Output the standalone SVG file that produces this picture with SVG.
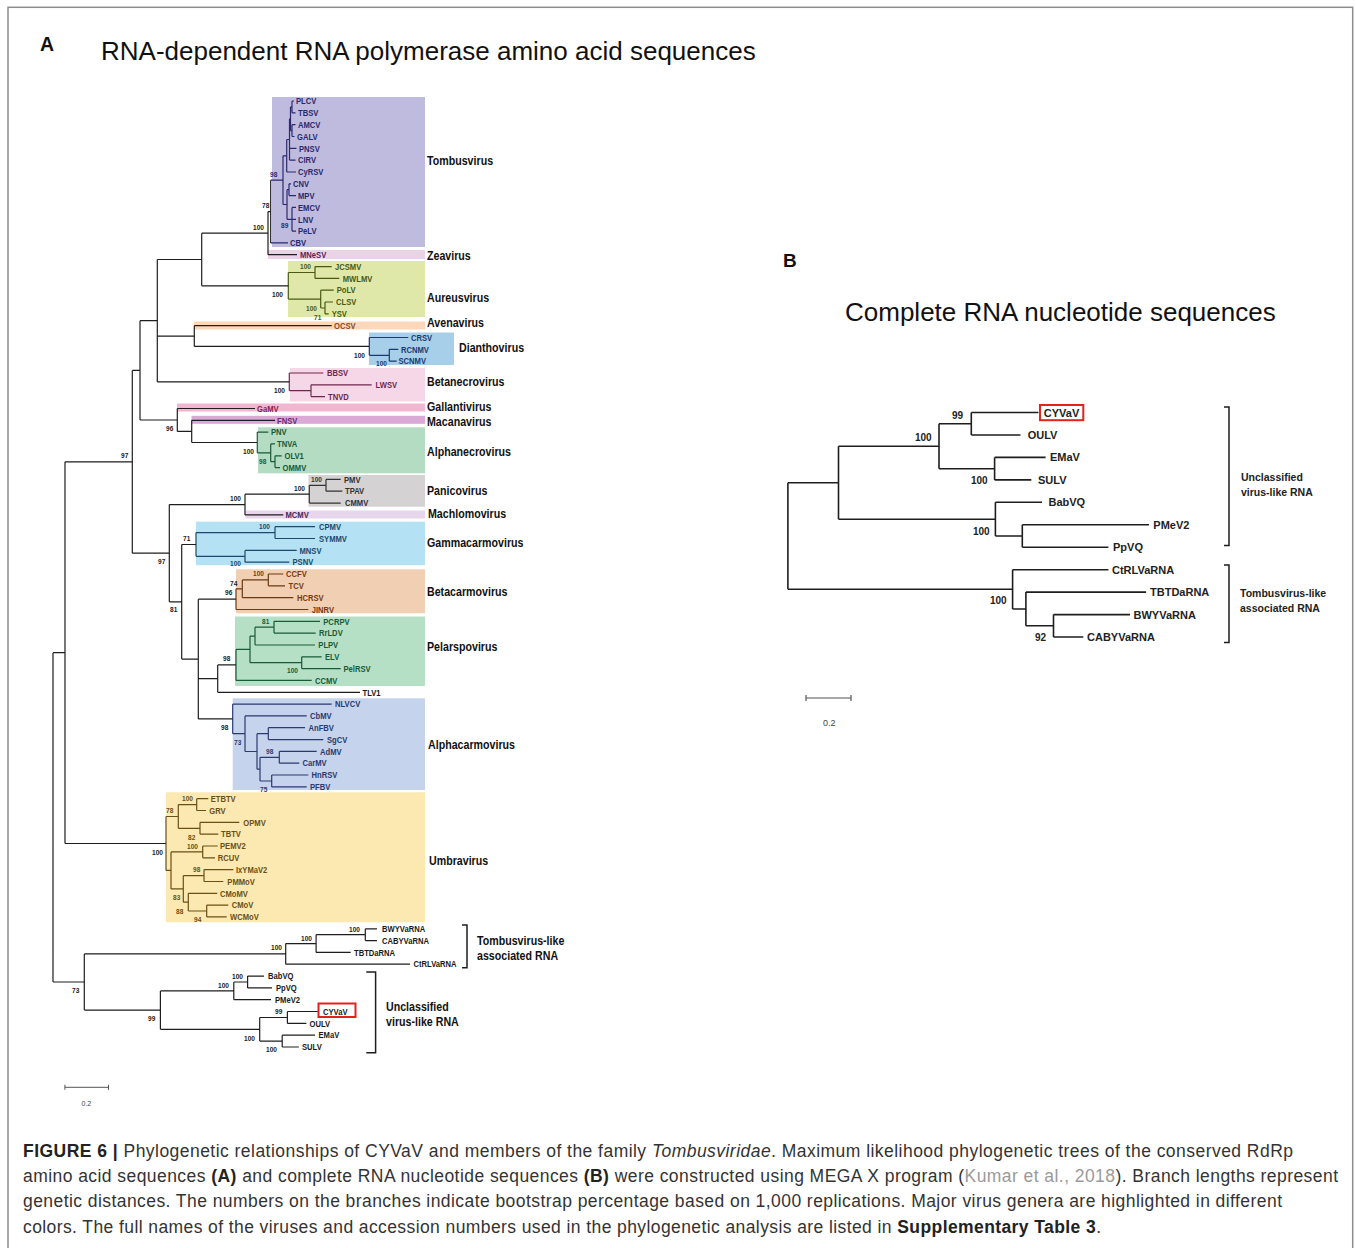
<svg xmlns="http://www.w3.org/2000/svg" width="1356" height="1248" viewBox="0 0 1356 1248">
<style>
.br{fill:none;stroke:#1e1e1e;stroke-width:1.2}
.bb{fill:none;stroke:#1e1e1e;stroke-width:1.6}
.n{font-family:'Liberation Sans',Arial,sans-serif;font-weight:bold}
.n text{transform-box:fill-box;transform-origin:0 50%;transform:scaleX(0.82)}
.lf{font-size:9.3px}
.bs{font-size:8px}
.gn{font-size:13px;fill:#111}
.bl{font-family:'Liberation Sans',Arial,sans-serif;font-weight:bold;fill:#222}
.tom{fill:#2b2a6e}.zea{fill:#5a245a}.aur{fill:#4a5a14}.ave{fill:#8a4a24}.dia{fill:#1a3a6e}.bne{fill:#6e2850}
.gal{fill:#8a2050}.mac{fill:#6e2a72}.anc{fill:#1a5a36}.pan{fill:#333}.mch{fill:#4a2858}.gam{fill:#1a4a6e}
.bca{fill:#7a3a14}.pel{fill:#1a5a36}.alc{fill:#2a3a6e}.umb{fill:#6a5014}.k{fill:#1a1a1a}
.s-tom{stroke:#2b2a6e}.s-aur{stroke:#4a5a14}.s-dia{stroke:#1a3a6e}.s-bne{stroke:#6e2850}.s-anc{stroke:#1a5a36}.s-pan{stroke:#333}
.s-gam{stroke:#1a4a6e}.s-bca{stroke:#6a3a14}.s-pel{stroke:#1a5a36}.s-alc{stroke:#2a3a6e}.s-umb{stroke:#6a5014}
.cap{font-family:'Liberation Sans',Arial,sans-serif;font-size:17.5px;fill:#333}
.red{fill:none;stroke:#e2231a;stroke-width:2}
.brk{fill:none;stroke:#1e1e1e;stroke-width:1.5}
</style>
<rect x="0" y="0" width="1356" height="1248" fill="#fff"/>
<rect x="8" y="7.3" width="1344.7" height="1260" fill="none" stroke="#8c8c8c" stroke-width="1.5"/>

<!-- Titles -->
<g id="title-a">
<text x="40" y="51" font-family="'Liberation Sans',Arial,sans-serif" font-weight="bold" font-size="19.5" fill="#111">A</text>
<text x="101" y="60" font-family="'Liberation Sans',Arial,sans-serif" font-size="26" fill="#111">RNA-dependent RNA polymerase amino acid sequences</text>
</g>
<g id="title-b">
<text x="783" y="267" font-family="'Liberation Sans',Arial,sans-serif" font-weight="bold" font-size="19" fill="#111">B</text>
<text x="845" y="321" font-family="'Liberation Sans',Arial,sans-serif" font-size="26" fill="#111">Complete RNA nucleotide sequences</text>
</g>

<!-- Clade highlight boxes -->
<g id="boxes">
<rect x="272" y="97" width="153" height="150" fill="#bebbdf"/>
<rect x="268" y="250" width="157" height="9" fill="#ebd3e6"/>
<rect x="288" y="261" width="137" height="56" fill="#dfe8a9"/>
<rect x="194" y="321.5" width="231" height="8" fill="#fcd8bb"/>
<rect x="369" y="332.5" width="85" height="32.5" fill="#a8cfe9"/>
<rect x="290" y="368" width="135" height="33.5" fill="#f6d7e7"/>
<rect x="177" y="403.5" width="248" height="8" fill="#f3b6d1"/>
<rect x="191.5" y="415.8" width="233.5" height="8" fill="#dba9d6"/>
<rect x="258" y="427.3" width="167" height="46" fill="#b3dcc3"/>
<rect x="308.5" y="475" width="116.5" height="31.7" fill="#d4d2d2"/>
<rect x="245.5" y="510.5" width="179.5" height="8" fill="#e8d6ec"/>
<rect x="196" y="521.7" width="229" height="43.5" fill="#b4e1f3"/>
<rect x="236" y="569.3" width="189" height="44" fill="#f1cfb2"/>
<rect x="235" y="616.5" width="190" height="69.5" fill="#b6e0c6"/>
<rect x="232.7" y="698.3" width="192.3" height="91.7" fill="#c6d3ec"/>
<rect x="166" y="792.3" width="259" height="130" fill="#fce9b1"/>
</g>

<!-- Connectors (tree branches) -->
<g id="connectors">
<path class="br s-tom" d="M292 101V112.8M292 101H294M292 112.8H295.5M292 124.7V136.5M292 124.7H295.5M292 136.5H294.5M290.5 106.9V130.6M290.5 106.9H292M290.5 130.6H292M289.5 118.8V160.1M289.5 118.8H290.5M289.5 148.3H296.5M289.5 160.1H295.5M286.7 139.5V172M286.7 139.5H289.5M286.7 172H296M289 183.8V195.6M289 183.8H291M289 195.6H296M292 207.4V231.1M292 207.4H296M292 219.3H296M292 231.1H296M287 189.7V219.3M287 189.7H289M287 219.3H292M283 155.8V204.5M283 155.8H286.7M283 204.5H287M272 180.2H283M272 242.9H288"/>
<path class="br" d="M270.7 180.2V242.9M270.7 180.2H272M270.7 242.9H272M268 211.6V254.7M268 211.6H270.7M268 254.7H297"/>
<path class="br s-aur" d="M325 302V313.9M325 302H333M325 313.9H328.7M320.7 290.2V308M320.7 290.2H333.7M320.7 308H325M315 266.6V278.4M315 266.6H331.7M315 278.4H339.3M288.3 272.5V299.1M288.3 272.5H315M288.3 299.1H320.7"/>
<path class="br" d="M201.7 233.2V285.8M201.7 233.2H268M201.7 285.8H288.3M194.3 325.7V346.4M194.3 325.7H331.7M194.3 346.4H369.3"/>
<path class="br s-dia" d="M369.3 337.5V355.3M369.3 337.5H408.3M369.3 355.3H389.3M389.3 349.3V361.2M389.3 349.3H398.3M389.3 361.2H396.7"/>
<path class="br s-bne" d="M289.3 373V390.7M289.3 373H323.3M289.3 390.7H311M311 384.8V396.6M311 384.8H371.7M311 396.6H325"/>
<path class="br" d="M157.3 259.5V381.9M157.3 259.5H201.7M157.3 336.1H194.3M157.3 381.9H289.3M177.3 408.5V431.4M177.3 408.5H255M177.3 431.4H191.7M191.7 420.3V442.5M191.7 420.3H275M191.7 442.5H257.3"/>
<path class="br s-anc" d="M257.3 432.1V452.8M257.3 432.1H268.3M257.3 452.8H270.7M270.7 443.9V461.7M270.7 443.9H275M270.7 461.7H275M275 455.8V467.6M275 455.8H281.7M275 467.6H280"/>
<path class="br" d="M140 320.7V420M140 320.7H157.3M140 420H177.3"/>
<path class="br s-pan" d="M326 479.4V491.2M326 479.4H340.7M326 491.2H342.3M309.3 485.3V503.1M309.3 485.3H326M309.3 503.1H340.7"/>
<path class="br" d="M245 494.2V514.9M245 494.2H309.3M245 514.9H283.3"/>
<path class="br s-gam" d="M275 526.7V538.5M275 526.7H315M275 538.5H315M245 550.4V562.2M245 550.4H296.7M245 562.2H289.3M196 532.6V556.3M196 532.6H275M196 556.3H245"/>
<path class="br s-bca" d="M268.3 574V585.8M268.3 574H283.3M268.3 585.8H285M242.3 579.9V597.7M242.3 579.9H268.3M242.3 597.7H293.3M236 588.8V609.5M236 588.8H242.3M236 609.5H308.3"/>
<path class="br s-pel" d="M274 621.3V633.1M274 621.3H320M274 633.1H315.7M255 627.2V645M255 627.2H274M255 645H315M301.7 656.8V668.6M301.7 656.8H321.7M301.7 668.6H340.7M250 636.1V662.7M250 636.1H255M250 662.7H301.7M236 649.4V680.4M236 649.4H250M236 680.4H311.7"/>
<path class="br" d="M217.7 664.9V692.3M217.7 664.9H236M217.7 692.3H360"/>
<path class="br s-alc" d="M268.3 727.7V739.6M268.3 727.7H305M268.3 739.6H323.3M279.3 751.4V763.2M279.3 751.4H316.7M279.3 763.2H299.3M271.7 775V786.9M271.7 775H308.3M271.7 786.9H306.7M260 757.3V781M260 757.3H279.3M260 781H271.7M257 733.7V769.2M257 733.7H268.3M257 769.2H260M245 715.9V751.5M245 715.9H306.7M245 751.5H257M232.7 704.1V733.7M232.7 704.1H331.7M232.7 733.7H245"/>
<path class="br" d="M198.3 599.2V718.9M198.3 599.2H236M198.3 678.6H217.7M198.3 718.9H232.7M181.7 544.5V659.1M181.7 544.5H196M181.7 659.1H198.3M169.3 504.6V601.8M169.3 504.6H245M169.3 601.8H181.7M132.3 370.4V553.2M132.3 370.4H140M132.3 553.2H169.3"/>
<path class="br s-umb" d="M196.7 798.7V810.5M196.7 798.7H208.3M196.7 810.5H206M200 822.3V834.2M200 822.3H239.3M200 834.2H218.3M178.3 804.6V828.3M178.3 804.6H196.7M178.3 828.3H200M202.7 846V857.8M202.7 846H217.7M202.7 857.8H215M204 869.6V881.5M204 869.6H233.3M204 881.5H223.3M206.7 905.1V916.9M206.7 905.1H228.3M206.7 916.9H226.7M188.3 893.3V911M188.3 893.3H217.3M188.3 911H206.7M183.3 875.6V902.2M183.3 875.6H204M183.3 902.2H188.3M171 851.9V888.9M171 851.9H202.7M171 888.9H183.3M166 816.5V870.4M166 816.5H178.3M166 870.4H171"/>
<path class="br" d="M65 461.8V843.5M65 461.8H132.3M65 843.5H166M365.3 928.8V940.6M365.3 928.8H377M365.3 940.6H377M316.1 934.7V952.4M316.1 934.7H365.3M316.1 952.4H350.7M285.7 943.6V964.2M285.7 943.6H316.1M285.7 964.2H410M247.6 976.1V987.9M247.6 976.1H264M247.6 987.9H272M233.8 982V999.7M233.8 982H247.6M233.8 999.7H271M287.4 1011.5V1023.4M287.4 1011.5H318.5M287.4 1023.4H306.4M282.2 1035.2V1047M282.2 1035.2H315M282.2 1047H298.8M259.7 1017.5V1041.1M259.7 1017.5H287.4M259.7 1041.1H282.2M160.4 990.9V1029.3M160.4 990.9H233.8M160.4 1029.3H259.7M84.3 953.9V1010.1M84.3 953.9H285.7M84.3 1010.1H160.4M53 652.7V982M53 652.7H65M53 982H84.3"/>
<path class="bb" d="M971.3 412.5V435M971.3 412.5H1038.4M971.3 435H1020.5M994.6 457.4V479.9M994.6 457.4H1045.6M994.6 479.9H1031.3M939 423.7V468.7M939 423.7H971.3M939 468.7H994.6M1022.3 524.8V547.2M1022.3 524.8H1149M1022.3 547.2H1108.4M995.4 502.3V536M995.4 502.3H1042M995.4 536H1022.3M838.5 446.2V519.2M838.5 446.2H939M838.5 519.2H995.4M1053.5 614.6V637M1053.5 614.6H1130M1053.5 637H1083.3M1025.9 592.1V625.8M1025.9 592.1H1146.1M1025.9 625.8H1053.5M1012.6 569.7V609M1012.6 569.7H1108.4M1012.6 609H1025.9M787.9 482.7V589.3M787.9 482.7H838.5M787.9 589.3H1012.6"/>
</g>

<!-- Tree A clades: leaf labels, bootstrap values, genus labels -->
<g id="clade-tombusvirus" class="n">
<g class="lf tom">
<text x="296" y="104.3">PLCV</text><text x="298" y="116.1">TBSV</text><text x="298" y="128">AMCV</text><text x="297" y="139.8">GALV</text>
<text x="299" y="151.6">PNSV</text><text x="298" y="163.4">CIRV</text><text x="298" y="175.3">CyRSV</text><text x="293" y="187.1">CNV</text>
<text x="298" y="198.9">MPV</text><text x="298" y="210.7">EMCV</text><text x="298" y="222.6">LNV</text><text x="298" y="234.4">PeLV</text>
<text x="290" y="246.2">CBV</text>
</g>
<g class="bs"><text class="tom" x="270" y="176.8">98</text><text class="k" x="262" y="207.8">78</text><text class="k" x="253" y="229.8">100</text><text class="tom" x="281" y="227.8">89</text></g>
<text class="gn" x="427" y="164.6">Tombusvirus</text>
</g>
<g id="clade-zeavirus" class="n"><text class="lf zea" x="300" y="258">MNeSV</text><text class="gn" x="427" y="259.6">Zeavirus</text></g>
<g id="clade-aureusvirus" class="n">
<g class="lf aur"><text x="335" y="269.9">JCSMV</text><text x="342.7" y="281.7">MWLMV</text><text x="336.7" y="293.5">PoLV</text><text x="336" y="305.3">CLSV</text><text x="331.7" y="317.2">YSV</text></g>
<g class="bs"><text class="aur" x="300" y="268.8">100</text><text class="k" x="272" y="296.8">100</text><text class="aur" x="306" y="310.8">100</text><text class="aur" x="314" y="319.8">71</text></g>
<text class="gn" x="427" y="301.6">Aureusvirus</text>
</g>
<g id="clade-avenavirus" class="n"><text class="lf ave" x="334" y="329">OCSV</text><text class="gn" x="427" y="326.6">Avenavirus</text></g>
<g id="clade-dianthovirus" class="n">
<g class="lf dia"><text x="411" y="340.8">CRSV</text><text x="401" y="352.6">RCNMV</text><text x="398.5" y="364.5">SCNMV</text></g>
<g class="bs"><text class="k" x="354" y="357.8">100</text><text class="dia" x="376" y="365.8">100</text></g>
<text class="gn" x="459" y="351.6">Dianthovirus</text>
</g>
<g id="clade-betanecrovirus" class="n">
<g class="lf bne"><text x="327" y="376.3">BBSV</text><text x="375.5" y="388.1">LWSV</text><text x="328" y="399.9">TNVD</text></g>
<text class="bs k" x="274" y="392.8">100</text>
<text class="gn" x="427" y="385.6">Betanecrovirus</text>
</g>
<g id="clade-gallantivirus" class="n"><text class="lf gal" x="257" y="411.8">GaMV</text><text class="gn" x="427" y="410.6">Gallantivirus</text></g>
<g id="clade-macanavirus" class="n"><text class="lf mac" x="277" y="423.6">FNSV</text><text class="bs k" x="166" y="430.8">96</text><text class="gn" x="427" y="425.6">Macanavirus</text></g>
<g id="clade-alphanecrovirus" class="n">
<g class="lf anc"><text x="271" y="435.4">PNV</text><text x="277" y="447.2">TNVA</text><text x="284.5" y="459.1">OLV1</text><text x="282.5" y="470.9">OMMV</text></g>
<g class="bs"><text class="k" x="243" y="453.8">100</text><text class="anc" x="259" y="463.8">98</text></g>
<text class="gn" x="427" y="455.6">Alphanecrovirus</text>
</g>
<g id="clade-panicovirus" class="n">
<g class="lf pan"><text x="344" y="482.7">PMV</text><text x="345" y="494.5">TPAV</text><text x="345" y="506.4">CMMV</text></g>
<g class="bs"><text class="k" x="230" y="500.8">100</text><text class="k" x="294" y="490.8">100</text><text class="pan" x="311" y="481.8">100</text></g>
<text class="gn" x="427" y="494.6">Panicovirus</text>
</g>
<g id="clade-machlomovirus" class="n"><text class="lf mch" x="285.5" y="518.2">MCMV</text><text class="gn" x="428" y="517.6">Machlomovirus</text></g>
<g id="clade-gammacarmovirus" class="n">
<g class="lf gam"><text x="319" y="530">CPMV</text><text x="319" y="541.8">SYMMV</text><text x="299.5" y="553.7">MNSV</text><text x="292.5" y="565.5">PSNV</text></g>
<g class="bs"><text class="k" x="183" y="540.8">71</text><text class="gam" x="259" y="528.8">100</text><text class="gam" x="230" y="565.8">100</text></g>
<text class="gn" x="427" y="546.6">Gammacarmovirus</text>
</g>
<g id="internal-labels" class="n bs k"><text x="121" y="457.8">97</text><text x="158" y="563.8">97</text><text x="170" y="611.8">81</text></g>
<g id="clade-betacarmovirus" class="n">
<g class="lf bca"><text x="286" y="577.3">CCFV</text><text x="288.5" y="589.1">TCV</text><text x="297" y="601">HCRSV</text><text x="311.7" y="612.8">JINRV</text></g>
<g class="bs"><text class="bca" x="253" y="575.8">100</text><text class="k" x="230" y="585.8">74</text><text class="k" x="225" y="594.8">96</text></g>
<text class="gn" x="427" y="595.6">Betacarmovirus</text>
</g>
<g id="clade-pelarspovirus" class="n">
<g class="lf pel"><text x="323.3" y="624.6">PCRPV</text><text x="319" y="636.4">RrLDV</text><text x="318.3" y="648.3">PLPV</text><text x="325" y="660.1">ELV</text><text x="343.5" y="671.9">PelRSV</text><text x="315" y="683.7">CCMV</text></g>
<g class="bs"><text class="pel" x="262" y="623.8">81</text><text class="k" x="223" y="660.8">98</text><text class="pel" x="287" y="672.8">100</text></g>
<text class="gn" x="427" y="650.6">Pelarspovirus</text>
</g>
<g id="leaf-tlv1" class="n"><text class="lf k" x="362.5" y="695.6">TLV1</text></g>
<g id="clade-alphacarmovirus" class="n">
<g class="lf alc"><text x="335" y="707.4">NLVCV</text><text x="310" y="719.2">CbMV</text><text x="308.5" y="731">AnFBV</text><text x="327" y="742.9">SgCV</text><text x="320" y="754.7">AdMV</text><text x="302.5" y="766.5">CarMV</text><text x="311.5" y="778.3">HnRSV</text><text x="310" y="790.2">PFBV</text></g>
<g class="bs"><text class="k" x="221" y="729.8">98</text><text class="alc" x="234" y="744.8">73</text><text class="alc" x="266" y="753.8">98</text><text class="alc" x="260" y="791.8">75</text></g>
<text class="gn" x="428" y="748.6">Alphacarmovirus</text>
</g>
<g id="clade-umbravirus" class="n">
<g class="lf umb"><text x="210.7" y="802">ETBTV</text><text x="209.3" y="813.8">GRV</text><text x="243.3" y="825.6">OPMV</text><text x="221" y="837.5">TBTV</text><text x="220" y="849.3">PEMV2</text><text x="217.7" y="861.1">RCUV</text><text x="236" y="872.9">IxYMaV2</text><text x="227.3" y="884.8">PMMoV</text><text x="220" y="896.6">CMoMV</text><text x="231.7" y="908.4">CMoV</text><text x="230" y="920.2">WCMoV</text></g>
<g class="bs umb"><text x="182" y="800.8">100</text><text x="166" y="812.8">78</text><text x="188" y="839.8">82</text><text x="187" y="848.8">100</text><text x="193" y="871.8">98</text><text x="173" y="899.8">83</text><text x="176" y="913.8">88</text><text x="194" y="921.8">94</text></g>
<text class="bs k" x="152" y="854.8">100</text>
<text class="gn" x="429" y="864.6">Umbravirus</text>
</g>
<g id="clade-tombus-like-a" class="n">
<g class="lf k"><text x="382" y="932.1">BWYVaRNA</text><text x="382" y="943.9">CABYVaRNA</text><text x="354" y="955.7">TBTDaRNA</text><text x="413.5" y="967.5">CtRLVaRNA</text></g>
<g class="bs k"><text x="349" y="931.8">100</text><text x="301" y="940.8">100</text><text x="271" y="949.8">100</text><text x="72" y="992.8">73</text></g>
<path class="brk" d="M462 925H467V967.7H462"/>
<text class="gn" x="477" y="944.6">Tombusvirus-like</text><text class="gn" x="477" y="959.6">associated RNA</text>
</g>
<g id="clade-unclassified-a" class="n">
<g class="lf k"><text x="268" y="979.4">BabVQ</text><text x="276" y="991.2">PpVQ</text><text x="275" y="1003">PMeV2</text><text x="323" y="1014.8">CYVaV</text><text x="309.5" y="1026.7">OULV</text><text x="318.5" y="1038.5">EMaV</text><text x="302" y="1050.3">SULV</text></g>
<g class="bs k"><text x="232" y="978.8">100</text><text x="218" y="987.8">100</text><text x="148" y="1020.8">99</text><text x="275" y="1013.8">99</text><text x="244" y="1040.8">100</text><text x="266" y="1051.8">100</text></g>
<rect class="red" x="318.5" y="1003.5" width="37" height="13.5"/>
<path class="brk" d="M366.3 972H375.6V1052.7H366.3"/>
<text class="gn" x="386" y="1011.3">Unclassified</text><text class="gn" x="386" y="1026.3">virus-like RNA</text>
</g>
<g id="scale-a">
<path fill="none" stroke="#555" stroke-width="1" d="M64.9 1087.3H108.5M64.9 1084.8V1089.8M108.5 1084.8V1089.8"/>
<text x="81.5" y="1105.5" font-family="'Liberation Sans',Arial,sans-serif" font-size="7" fill="#444">0.2</text>
</g>

<!-- Tree B -->
<g id="tree-b-leaves" class="bl" font-size="11">
<text x="1043.8" y="416.5">CYVaV</text><text x="1027.7" y="439">OULV</text><text x="1050" y="461.4">EMaV</text><text x="1038" y="483.9">SULV</text>
<text x="1048.5" y="506.3">BabVQ</text><text x="1153.3" y="528.8">PMeV2</text><text x="1113" y="551.2">PpVQ</text><text x="1112" y="573.7">CtRLVaRNA</text>
<text x="1150" y="596.1">TBTDaRNA</text><text x="1133.5" y="618.6">BWYVaRNA</text><text x="1087" y="641">CABYVaRNA</text>
</g>
<rect id="cyvav-b" class="red" x="1040" y="405" width="43.3" height="15.2"/>
<g id="tree-b-bootstrap" class="bl" font-size="10" fill="#333">
<text x="952" y="418.5">99</text><text x="915" y="440.5">100</text><text x="971" y="483.5">100</text><text x="973" y="534.5">100</text><text x="990" y="603.5">100</text><text x="1035" y="640.5">92</text>
</g>
<g id="tree-b-brackets">
<path class="brk" d="M1224 407H1229V545.5H1224M1224 565H1229V642.5H1224"/>
<g class="bl" font-size="10.5"><text x="1241" y="481">Unclassified</text><text x="1241" y="496">virus-like RNA</text><text x="1240" y="597">Tombusvirus-like</text><text x="1240" y="612">associated RNA</text></g>
</g>
<g id="scale-b">
<path fill="none" stroke="#555" stroke-width="1.2" d="M806 698H851M806 695V701M851 695V701"/>
<text x="823" y="725.5" font-family="'Liberation Sans',Arial,sans-serif" font-size="9" fill="#444">0.2</text>
</g>

<!-- Caption -->
<g id="caption" class="cap">
<text x="23" y="1156.5" textLength="1270" lengthAdjust="spacing"><tspan font-weight="bold" fill="#222">FIGURE 6 | </tspan>Phylogenetic relationships of CYVaV and members of the family <tspan font-style="italic">Tombusviridae</tspan>. Maximum likelihood phylogenetic trees of the conserved RdRp</text>
<text x="23" y="1182" textLength="1315" lengthAdjust="spacing">amino acid sequences <tspan font-weight="bold" fill="#222">(A)</tspan> and complete RNA nucleotide sequences <tspan font-weight="bold" fill="#222">(B)</tspan> were constructed using MEGA X program (<tspan fill="#9a9a9a">Kumar et al., 2018</tspan>). Branch lengths represent</text>
<text x="23" y="1207.3" textLength="1259" lengthAdjust="spacing">genetic distances. The numbers on the branches indicate bootstrap percentage based on 1,000 replications. Major virus genera are highlighted in different</text>
<text x="23" y="1232.7" textLength="1078" lengthAdjust="spacing">colors. The full names of the viruses and accession numbers used in the phylogenetic analysis are listed in <tspan font-weight="bold" fill="#222">Supplementary Table 3</tspan>.</text>
</g>
</svg>
